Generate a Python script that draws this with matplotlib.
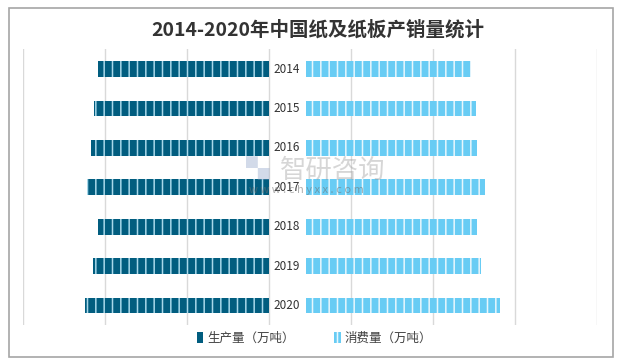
import matplotlib
matplotlib.use("Agg")
import matplotlib.pyplot as plt
from matplotlib.patches import Rectangle

plt.rcParams['font.family'] = ['Noto Sans CJK SC', 'DejaVu Sans']
plt.rcParams['hatch.linewidth'] = 1.1

years = ['2014', '2015', '2016', '2017', '2018', '2019', '2020']
production = [10470, 10710, 10855, 11130, 10435, 10765, 11260]
consumption = [10071, 10352, 10419, 10897, 10439, 10704, 11827]
prod_label = '生产量（万吨）'
cons_label = '消费量（万吨）'
title = '2014-2020年中国纸及纸板产销量统计'

gap = 2260      # room for the year labels between the two sides
label_x = 1080

fig = plt.figure(figsize=(6.35, 3.64), dpi=100)
ax = fig.add_axes([0.0367, 0.1063, 0.903, 0.7583])

y = list(range(len(years)))
b1 = ax.barh(y, [-v for v in production], height=0.4, color='#015D7F',
             edgecolor='#a8d8ea', linewidth=0, hatch='||', label=prod_label, zorder=2)
b2 = ax.barh(y, consumption, left=gap, height=0.4, color='#68CCF4',
             edgecolor='#e8f7fd', linewidth=0, hatch='||', label=cons_label, zorder=2)

for i, yr in enumerate(years):
    ax.text(label_x, i, yr, ha='center', va='center', fontsize=8.5, color='#333333', zorder=3)

ax.set_xlim(-15000, 20000)
ax.set_ylim(len(years) - 0.5, -0.5)
ax.set_xticks(range(-15000, 20001, 5000))
ax.set_yticks([])
ax.tick_params(axis='x', length=0, labelbottom=False)
ax.grid(axis='x', color='#d9d9d9', linewidth=1, zorder=0)
for s in ax.spines.values():
    s.set_visible(False)

fig.text(0.5, 0.918, title, ha='center', va='center', fontsize=14,
         fontweight='bold', color='#333333')

leg = fig.legend(handles=[b1, b2], loc='center', bbox_to_anchor=(0.495, 0.071),
                 ncol=2, frameon=False, fontsize=9, handlelength=0.5, handleheight=0.9,
                 columnspacing=3.2, handletextpad=0.3)
for t in leg.get_texts():
    t.set_color('#404040')

# watermark
fig.text(0.441, 0.533, '智研咨询', ha='left', va='center', fontsize=19,
         color='#9a9a9a', alpha=0.4, zorder=5)
fig.text(0.388, 0.533, '▚', ha='left', va='center', fontsize=17,
         color='#8fa3c8', alpha=0.4, zorder=5)
fig.text(0.392, 0.478, 'w w w . c h y x x . c o m', ha='left', va='center', fontsize=8,
         color='#707070', alpha=0.55, zorder=5)

# outer frame
fig.patches.append(Rectangle((9.3 / 635, 1 - 357.3 / 364), (613.3 - 9.3) / 635, (357.3 - 8.3) / 364,
                             transform=fig.transFigure, fill=False, edgecolor='#a6a6a6',
                             linewidth=1.2))

fig.savefig('out.png', dpi=100)
